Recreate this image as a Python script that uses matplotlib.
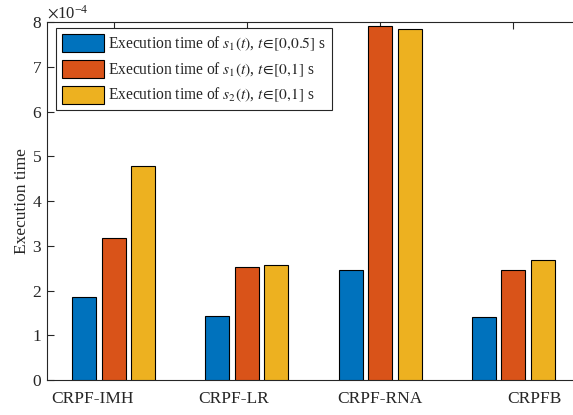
import matplotlib
matplotlib.use("Agg")
import matplotlib.pyplot as plt
import matplotlib.transforms as mtransforms
from matplotlib.ticker import ScalarFormatter
import numpy as np

categories = ["CRPF-IMH", "CRPF-LR", "CRPF-RNA", "CRPFB"]
s1_half = [1.85e-4, 1.43e-4, 2.46e-4, 1.41e-4]
s1_full = [3.17e-4, 2.52e-4, 7.91e-4, 2.45e-4]
s2_full = [4.78e-4, 2.56e-4, 7.84e-4, 2.69e-4]
series_labels = [r"Execution time of $s_1(t)$, $t\!\in\![0,\!0.5]$ s",
                 r"Execution time of $s_1(t)$, $t\!\in\![0,\!1]$ s",
                 r"Execution time of $s_2(t)$, $t\!\in\![0,\!1]$ s"]
colors = ["#0072BD", "#D95319", "#EDB120"]

plt.rcParams["font.family"] = ["Liberation Serif", "DejaVu Serif"]
plt.rcParams["mathtext.fontset"] = "stix"
tc = "#262626"
plt.rcParams["text.color"] = tc
plt.rcParams["axes.labelcolor"] = tc
plt.rcParams["xtick.color"] = tc
plt.rcParams["ytick.color"] = tc

fig = plt.figure(figsize=(5.73, 4.15), dpi=100)
ax = fig.add_axes([47/573, 35/415, 533/573, 358/415])

x = np.arange(1, len(categories) + 1)
w = 0.18
off = 0.222
for i, (vals, lab, col) in enumerate(zip([s1_half, s1_full, s2_full], series_labels, colors)):
    ax.bar(x + (i - 1) * off, vals, width=w, color=col, edgecolor="black",
           linewidth=0.8, label=lab, zorder=3)

ax.set_xlim(0.5, 4.5)
ax.set_ylim(0, 8e-4)
ax.set_xticks(x)
ax.set_xticklabels(categories, fontsize=12.5)
ax.set_yticks(np.arange(0, 9) * 1e-4)
fmt = ScalarFormatter(useMathText=True)
fmt.set_powerlimits((-3, 3))
ax.yaxis.set_major_formatter(fmt)
ax.yaxis.get_offset_text().set_fontsize(12)
ax.tick_params(axis="both", direction="in", top=True, right=True, length=5,
               width=0.8, labelsize=12.5)
ax.tick_params(axis="x", pad=8)
for sp in ax.spines.values():
    sp.set_color(tc)
    sp.set_linewidth(0.8)

shifts = [-21, -13, 0, 21]
for lbl, s in zip(ax.get_xticklabels(), shifts):
    lbl.set_transform(lbl.get_transform() + mtransforms.ScaledTranslation(s / 100, 0, fig.dpi_scale_trans))

ax.set_ylabel("Execution time", fontsize=12.5, labelpad=1)

leg = ax.legend(loc="upper left", bbox_to_anchor=(0.017, 0.982), fontsize=11.2,
                frameon=True, fancybox=False, edgecolor=tc, framealpha=1,
                handlelength=2.7, handleheight=1.4, handletextpad=0.3,
                labelspacing=0.45, borderpad=0.35, borderaxespad=0)
leg.get_frame().set_linewidth(0.8)

fig.savefig("out.png", dpi=100)
